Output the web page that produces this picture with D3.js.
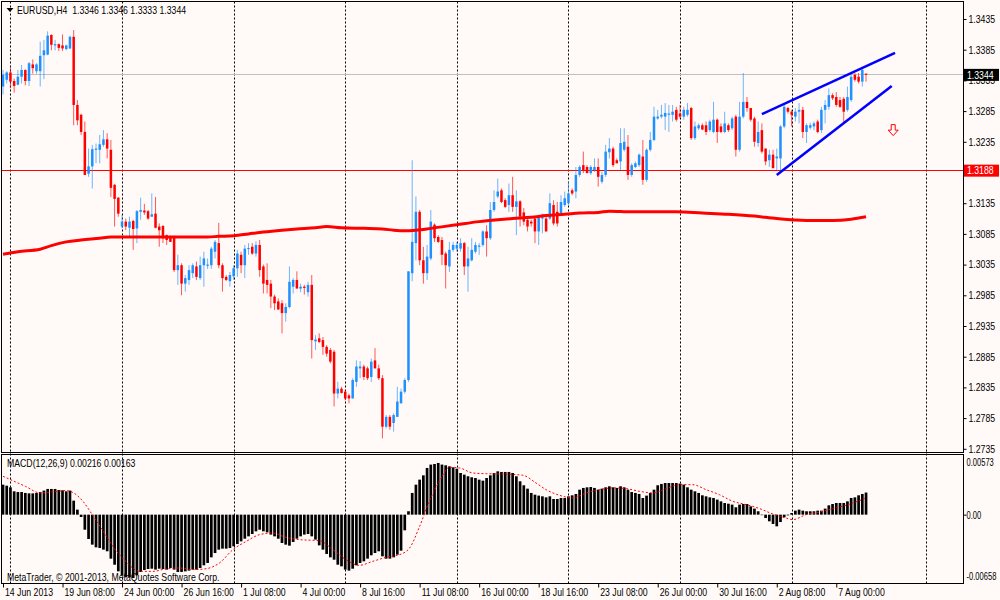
<!DOCTYPE html>
<html>
<head>
<meta charset="utf-8">
<script src="https://cdn.jsdelivr.net/npm/d3@7"></script>
<style>
  body { margin: 0; background: #fffaf7; }
  svg text { font-family: "Liberation Sans", Arial, sans-serif; font-size: 10.5px; fill: #000; white-space: pre; }
</style>
</head>
<body>
<svg id="chart" width="1000" height="600"></svg>
<script>
'use strict';

// H4 bars: [open, high, low, close]
const candles = [
  [1.3325,1.3352,1.3312,1.3344],[1.3336,1.3350,1.3330,1.3348],[1.3348,1.3356,1.3322,1.3333],[1.3334,1.3338,1.3315,1.3326],
  [1.3328,1.3352,1.3327,1.3341],[1.3341,1.3360,1.3330,1.3352],[1.3352,1.3353,1.3327,1.3334],[1.3334,1.3365,1.3326,1.3363],
  [1.3361,1.3369,1.3346,1.3355],[1.3350,1.3363,1.3346,1.3361],[1.3350,1.3398,1.3325,1.3375],[1.3376,1.3401,1.3337,1.3384],
  [1.3377,1.3415,1.3376,1.3408],[1.3409,1.3410,1.3384,1.3393],[1.3392,1.3401,1.3384,1.3394],[1.3394,1.3395,1.3383,1.3388],
  [1.3392,1.3410,1.3383,1.3387],[1.3386,1.3393,1.3384,1.3392],[1.3387,1.3408,1.3386,1.3406],[1.3406,1.3417,1.3262,1.3295],
  [1.3295,1.3303,1.3262,1.3270],[1.3279,1.3281,1.3246,1.3251],[1.3251,1.3268,1.3181,1.3181],[1.3183,1.3224,1.3178,1.3195],
  [1.3195,1.3230,1.3159,1.3223],[1.3222,1.3232,1.3200,1.3224],[1.3222,1.3246,1.3200,1.3231],[1.3230,1.3254,1.3227,1.3239],
  [1.3239,1.3249,1.3208,1.3224],[1.3222,1.3238,1.3145,1.3160],[1.3165,1.3166,1.3097,1.3142],[1.3144,1.3145,1.3113,1.3118],
  [1.3097,1.3116,1.3094,1.3105],[1.3105,1.3110,1.3091,1.3097],[1.3095,1.3113,1.3080,1.3105],[1.3106,1.3108,1.3059,1.3093],
  [1.3094,1.3124,1.3070,1.3122],[1.3121,1.3144,1.3108,1.3124],[1.3123,1.3134,1.3116,1.3120],[1.3122,1.3124,1.3108,1.3110],
  [1.3113,1.3151,1.3113,1.3117],[1.3118,1.3145,1.3094,1.3095],[1.3097,1.3102,1.3064,1.3091],[1.3098,1.3099,1.3070,1.3078],
  [1.3083,1.3084,1.3067,1.3075],[1.3079,1.3082,1.3072,1.3072],[1.3080,1.3082,1.3023,1.3026],[1.3026,1.3051,1.3002,1.3034],
  [1.3034,1.3037,1.2985,1.3004],[1.3004,1.3018,1.2991,1.3013],[1.3010,1.3034,1.3002,1.3026],[1.3021,1.3037,1.3013,1.3034],
  [1.3032,1.3040,1.3010,1.3015],[1.3013,1.3048,1.3010,1.3034],[1.3034,1.3056,1.2999,1.3045],[1.3033,1.3045,1.3028,1.3035],
  [1.3034,1.3064,1.3028,1.3061],[1.3056,1.3075,1.3045,1.3072],[1.3070,1.3103,1.3029,1.3034],[1.3034,1.3037,1.2991,1.3013],
  [1.3015,1.3018,1.3008,1.3010],[1.3008,1.3023,1.2999,1.3018],[1.3016,1.3034,1.3010,1.3029],[1.3029,1.3059,1.3015,1.3053],
  [1.3051,1.3056,1.3021,1.3034],[1.3034,1.3067,1.3013,1.3061],[1.3061,1.3070,1.3051,1.3062],[1.3064,1.3070,1.3051,1.3053],
  [1.3053,1.3073,1.3048,1.3067],[1.3067,1.3075,1.3015,1.3026],[1.3032,1.3035,1.2988,1.3004],[1.3010,1.3037,1.2988,1.3002],
  [1.3004,1.3010,1.2964,1.2983],[1.2983,1.2986,1.2961,1.2972],[1.2975,1.2980,1.2961,1.2962],[1.2972,1.2977,1.2923,1.2956],
  [1.2956,1.2972,1.2942,1.2966],[1.2966,1.3032,1.2964,1.3007],[1.2999,1.3013,1.2988,1.3010],[1.3010,1.3024,1.2996,1.2996],
  [1.2996,1.3004,1.2990,1.2999],[1.2999,1.3002,1.2986,1.2997],[1.2990,1.3007,1.2983,1.3002],[1.3002,1.3018,1.2882,1.2912],
  [1.2910,1.2920,1.2896,1.2913],[1.2915,1.2923,1.2907,1.2909],[1.2912,1.2917,1.2888,1.2901],[1.2901,1.2904,1.2885,1.2890],
  [1.2896,1.2899,1.2874,1.2877],[1.2893,1.2896,1.2804,1.2825],[1.2825,1.2844,1.2817,1.2833],[1.2833,1.2836,1.2825,1.2826],
  [1.2828,1.2831,1.2814,1.2817],[1.2822,1.2825,1.2809,1.2817],[1.2817,1.2850,1.2817,1.2847],[1.2844,1.2879,1.2836,1.2869],
  [1.2866,1.2878,1.2850,1.2869],[1.2869,1.2872,1.2847,1.2852],[1.2866,1.2869,1.2847,1.2850],[1.2852,1.2882,1.2844,1.2877],
  [1.2879,1.2899,1.2866,1.2866],[1.2866,1.2872,1.2847,1.2850],[1.2850,1.2855,1.2752,1.2771],[1.2771,1.2790,1.2768,1.2787],
  [1.2787,1.2790,1.2766,1.2771],[1.2777,1.2793,1.2763,1.2790],[1.2787,1.2836,1.2787,1.2812],[1.2809,1.2833,1.2809,1.2828],
  [1.2828,1.2850,1.2825,1.2847],[1.2847,1.3024,1.2844,1.3024],[1.3021,1.3205,1.3008,1.3072],[1.3070,1.3146,1.3042,1.3121],
  [1.3121,1.3124,1.3034,1.3042],[1.3042,1.3064,1.3004,1.3021],[1.3021,1.3067,1.3010,1.3048],[1.3045,1.3124,1.3042,1.3105],
  [1.3100,1.3102,1.3072,1.3078],[1.3080,1.3083,1.3070,1.3072],[1.3075,1.3080,1.3034,1.3051],[1.3053,1.3056,1.2996,1.3034],
  [1.3032,1.3072,1.3023,1.3059],[1.3059,1.3072,1.3056,1.3067],[1.3061,1.3072,1.3056,1.3067],[1.3061,1.3078,1.3056,1.3070],
  [1.3070,1.3072,1.3018,1.3032],[1.3032,1.3064,1.2991,1.3045],[1.3042,1.3078,1.3040,1.3059],[1.3056,1.3072,1.3053,1.3067],
  [1.3064,1.3070,1.3051,1.3066],[1.3067,1.3091,1.3064,1.3089],[1.3089,1.3099,1.3048,1.3078],[1.3078,1.3137,1.3075,1.3124],
  [1.3124,1.3156,1.3121,1.3137],[1.3146,1.3175,1.3143,1.3154],[1.3156,1.3159,1.3135,1.3137],[1.3140,1.3143,1.3127,1.3129],
  [1.3132,1.3167,1.3121,1.3148],[1.3148,1.3178,1.3121,1.3129],[1.3129,1.3156,1.3083,1.3138],[1.3138,1.3140,1.3097,1.3113],
  [1.3120,1.3127,1.3099,1.3105],[1.3108,1.3113,1.3089,1.3097],[1.3105,1.3108,1.3097,1.3102],[1.3110,1.3113,1.3070,1.3089],
  [1.3089,1.3116,1.3067,1.3113],[1.3110,1.3118,1.3086,1.3116],[1.3110,1.3113,1.3089,1.3089],[1.3110,1.3151,1.3108,1.3135],
  [1.3132,1.3140,1.3099,1.3102],[1.3121,1.3137,1.3097,1.3102],[1.3118,1.3148,1.3116,1.3137],[1.3132,1.3154,1.3129,1.3143],
  [1.3135,1.3170,1.3132,1.3151],[1.3156,1.3159,1.3148,1.3151],[1.3154,1.3194,1.3143,1.3181],[1.3181,1.3197,1.3178,1.3194],
  [1.3197,1.3219,1.3184,1.3189],[1.3194,1.3197,1.3184,1.3184],[1.3184,1.3197,1.3181,1.3194],[1.3189,1.3208,1.3186,1.3194],
  [1.3194,1.3208,1.3162,1.3178],[1.3170,1.3186,1.3167,1.3181],[1.3181,1.3230,1.3178,1.3219],[1.3218,1.3241,1.3208,1.3224],
  [1.3224,1.3227,1.3194,1.3197],[1.3205,1.3208,1.3200,1.3200],[1.3203,1.3257,1.3189,1.3233],[1.3222,1.3257,1.3219,1.3235],
  [1.3227,1.3246,1.3173,1.3181],[1.3181,1.3200,1.3178,1.3197],[1.3194,1.3203,1.3192,1.3200],[1.3197,1.3216,1.3194,1.3214],
  [1.3211,1.3238,1.3165,1.3173],[1.3173,1.3224,1.3170,1.3222],[1.3222,1.3251,1.3219,1.3238],[1.3238,1.3292,1.3236,1.3276],
  [1.3273,1.3287,1.3271,1.3276],[1.3276,1.3295,1.3273,1.3279],[1.3276,1.3298,1.3254,1.3282],[1.3279,1.3295,1.3251,1.3281],
  [1.3279,1.3295,1.3268,1.3284],[1.3287,1.3292,1.3268,1.3271],[1.3281,1.3295,1.3273,1.3276],[1.3276,1.3292,1.3271,1.3287],
  [1.3279,1.3298,1.3276,1.3287],[1.3290,1.3292,1.3238,1.3241],[1.3241,1.3268,1.3238,1.3260],[1.3257,1.3265,1.3254,1.3262],
  [1.3262,1.3265,1.3254,1.3255],[1.3262,1.3268,1.3246,1.3251],[1.3254,1.3271,1.3251,1.3268],[1.3251,1.3300,1.3249,1.3271],
  [1.3271,1.3273,1.3233,1.3251],[1.3260,1.3265,1.3249,1.3251],[1.3251,1.3284,1.3249,1.3265],[1.3262,1.3265,1.3251,1.3254],
  [1.3257,1.3276,1.3254,1.3273],[1.3276,1.3279,1.3211,1.3222],[1.3222,1.3300,1.3219,1.3276],[1.3276,1.3347,1.3273,1.3300],
  [1.3300,1.3308,1.3284,1.3290],[1.3290,1.3290,1.3268,1.3271],[1.3273,1.3276,1.3227,1.3235],[1.3233,1.3268,1.3227,1.3251],
  [1.3254,1.3265,1.3216,1.3219],[1.3224,1.3224,1.3197,1.3203],[1.3205,1.3222,1.3194,1.3214],[1.3214,1.3222,1.3192,1.3192],
  [1.3208,1.3224,1.3189,1.3211],[1.3208,1.3262,1.3189,1.3260],[1.3260,1.3295,1.3257,1.3292],[1.3290,1.3292,1.3281,1.3284],
  [1.3284,1.3287,1.3260,1.3279],[1.3276,1.3290,1.3268,1.3284],[1.3284,1.3298,1.3265,1.3287],[1.3287,1.3292,1.3241,1.3251],
  [1.3251,1.3265,1.3233,1.3262],[1.3258,1.3266,1.3255,1.3262],[1.3260,1.3268,1.3254,1.3265],[1.3268,1.3271,1.3249,1.3251],
  [1.3254,1.3292,1.3249,1.3287],[1.3287,1.3303,1.3265,1.3295],[1.3292,1.3322,1.3287,1.3311],[1.3311,1.3314,1.3303,1.3306],
  [1.3308,1.3316,1.3292,1.3295],[1.3303,1.3308,1.3290,1.3292],[1.3305,1.3308,1.3265,1.3284],[1.3287,1.3325,1.3284,1.3308],
  [1.3303,1.3344,1.3300,1.3341],[1.3344,1.3347,1.3333,1.3336],[1.3341,1.3347,1.3330,1.3333],[1.3333,1.3355,1.3325,1.3352],
  [1.3346,1.3346,1.3333,1.3344]
];

// MACD(12,26,9) main line, one value per bar (drawn as histogram)
const macdMain = [
  0.00293,0.00283,0.00267,0.00228,0.00221,0.00221,0.00212,0.00208,0.00208,0.00212,0.00221,0.00235,0.00251,0.00251,0.00251,0.00241,
  0.00238,0.00228,0.00235,0.00137,0.00049,-0.00023,-0.00147,-0.00238,-0.00293,-0.00319,-0.00326,-0.00342,-0.00358,-0.00430,-0.00489,-0.00554,
  -0.00593,-0.00612,-0.00612,-0.00619,-0.00593,-0.00560,-0.00541,-0.00531,-0.00528,-0.00537,-0.00528,-0.00531,-0.00537,-0.00521,-0.00537,-0.00560,
  -0.00560,-0.00554,-0.00547,-0.00537,-0.00537,-0.00521,-0.00495,-0.00472,-0.00417,-0.00375,-0.00342,-0.00332,-0.00332,-0.00326,-0.00309,-0.00287,
  -0.00261,-0.00235,-0.00212,-0.00189,-0.00163,-0.00147,-0.00163,-0.00173,-0.00195,-0.00212,-0.00235,-0.00277,-0.00293,-0.00303,-0.00267,-0.00235,
  -0.00212,-0.00195,-0.00189,-0.00212,-0.00244,-0.00300,-0.00342,-0.00384,-0.00417,-0.00440,-0.00489,-0.00505,-0.00537,-0.00547,-0.00528,-0.00495,
  -0.00472,-0.00456,-0.00430,-0.00397,-0.00375,-0.00358,-0.00407,-0.00430,-0.00430,-0.00417,-0.00391,-0.00352,-0.00153,0.00033,0.00212,0.00293,
  0.00342,0.00384,0.00456,0.00489,0.00495,0.00505,0.00489,0.00482,0.00472,0.00462,0.00449,0.00407,0.00391,0.00375,0.00365,0.00358,
  0.00342,0.00332,0.00358,0.00384,0.00407,0.00423,0.00417,0.00417,0.00417,0.00407,0.00375,0.00326,0.00287,0.00254,0.00212,0.00195,
  0.00186,0.00179,0.00169,0.00179,0.00153,0.00153,0.00163,0.00163,0.00179,0.00189,0.00202,0.00244,0.00261,0.00267,0.00270,0.00261,
  0.00244,0.00254,0.00267,0.00277,0.00267,0.00261,0.00277,0.00267,0.00244,0.00221,0.00212,0.00202,0.00163,0.00186,0.00212,0.00244,
  0.00287,0.00300,0.00309,0.00309,0.00309,0.00309,0.00303,0.00293,0.00267,0.00244,0.00228,0.00212,0.00189,0.00179,0.00169,0.00163,
  0.00147,0.00130,0.00114,0.00107,0.00098,0.00072,0.00098,0.00104,0.00104,0.00081,0.00059,0.00033,-0.00005,-0.00033,-0.00065,-0.00091,
  -0.00114,-0.00072,-0.00026,-0.00007,0.00016,0.00039,0.00049,0.00039,0.00033,0.00033,0.00033,0.00039,0.00039,0.00059,0.00091,0.00104,
  0.00114,0.00114,0.00114,0.00130,0.00163,0.00169,0.00189,0.00202,0.00216
];

// MACD signal line, read at these bars
const signalBars = [0,3,6,10,13,17,19,21.5,24,27,29.5,33,36.7,40.3,44,47.4,51,54.6,58.2,61.8,65.4,69,72.5,76,79.7,85,88.7,92.2,95.8,99.4,
  103,106.6,109.3,112,114.6,117.3,120,122.7,126.3,130,134,139.7,143.3,146,149.6,153.2,156.8,160.3,163.9,167.5,171.1,174.7,178.3,181.9,
  185.4,189,192.6,196.2,199.8,203.4,206.9,210.5,212.3,215.9,219.5,223,226.6,232];
const signalValues = [0.00375,0.00326,0.00277,0.00212,0.00221,0.00235,0.00212,0.00130,0,-0.00163,-0.00309,-0.00456,-0.00554,-0.00554,
  -0.00528,-0.00521,-0.00537,-0.00528,-0.00472,-0.00342,-0.00261,-0.00195,-0.00179,-0.00221,-0.00244,-0.00254,-0.00342,-0.00440,-0.00495,
  -0.00456,-0.00417,-0.00391,-0.00326,-0.00114,0.00130,0.00326,0.00462,0.00456,0.00407,0.00400,0.00398,0.00385,0.00309,0.00244,0.00189,
  0.00163,0.00212,0.00244,0.00261,0.00254,0.00228,0.00212,0.00254,0.00293,0.00293,0.00244,0.00195,0.00130,0.00098,0.00059,0.00007,
  -0.00033,-0.00049,0,0.00026,0.00059,0.00091,0.00163];

// thick red moving average, read at these bars
const maBars = [0,4,10,13,17,21,26,29,35,44,55,58,62,66,70,75,79,84,87,91,97,102,105,108,111,115,122,128,133,137,142,146,151,155,
  160,163,169,175,181,188,195,202,208,216,223,228,232];
const maValues = [1.3052,1.3056,1.3060,1.3066,1.3072,1.3075,1.3078,1.3080,1.3080,1.3080,1.3080,1.3081,1.3082,1.3085,1.3088,1.3091,
  1.3093,1.3095,1.3097,1.3095,1.3094,1.3093,1.3091,1.3090,1.3091,1.3094,1.3100,1.3105,1.3108,1.3110,1.3112,1.3115,1.3117,1.3119,
  1.3120,1.3122,1.3121,1.3121,1.3121,1.3119,1.3117,1.3114,1.3110,1.3107,1.3107,1.3109,1.3113];

// 1.3185 sits under the red level tag and is not drawn
const priceTicks = [1.3435,1.3385,1.3335,1.3285,1.3235,1.3135,1.3085,1.3035,1.2985,1.2935,1.2885,1.2835,1.2785,1.2735];
const macdTicks = [0.00573, 0, -0.00658];
const macdTickLabels = ['0.00573', '0.00', '-0.00658'];

const timeBars = [0,16,32,48,64,80,96,112,128,144,160,176,192,208,224];
const timeLabels = ['14 Jun 2013','19 Jun 08:00','24 Jun 00:00','26 Jun 16:00','1 Jul 08:00','4 Jul 00:00','8 Jul 16:00',
  '11 Jul 08:00','16 Jul 00:00','18 Jul 16:00','23 Jul 08:00','26 Jul 00:00','30 Jul 16:00','2 Aug 08:00','7 Aug 00:00'];
const weekBars = [2,32,62,92,122,152,182,212,248];

const quote = [1.3346, 1.3346, 1.3333, 1.3344];   // O H L C of the last bar
const bid = 1.3344;
const level = 1.3188;
const macdNow = [0.00216, 0.00163];
const upperChannel = [[204.0, 1.3280], [239.8, 1.3380]];
const lowerChannel = [[208.0, 1.3181], [238.9, 1.3326]];
const sellArrow = [239.3, 1.3254];

document.addEventListener('DOMContentLoaded', () => {

  const svg = d3.select('#chart');
  const left = 1.5, right = 963.5;
  const main = {top: 1.5, bottom: 452.5};
  const sub = {top: 454.5, bottom: 583.5};
  const bull = '#1e90ff', bear = '#ff0000';

  svg.append('rect').attr('width', 1000).attr('height', 600).attr('fill', '#fffaf7');

  // scales
  const x = d3.scaleLinear().domain([0, 232]).range([3, 866.04]);
  const y = d3.scaleLinear().domain([1.2735, 1.3435]).range([448.8, 19]);
  const yM = d3.scaleLinear().domain([-0.00658, 0.00573]).range([582, 456]);

  const defs = svg.append('defs');
  defs.append('clipPath').attr('id', 'clip-main').append('rect')
    .attr('x', left).attr('y', main.top).attr('width', right - left).attr('height', main.bottom - main.top);
  defs.append('clipPath').attr('id', 'clip-sub').append('rect')
    .attr('x', left).attr('y', sub.top).attr('width', right - left).attr('height', sub.bottom - sub.top);

  // weekly dashed grid through both windows
  svg.append('g').selectAll('line')
    .data(weekBars)
    .enter()
    .append('line')
    .attr('x1', d => Math.round(x(d)) + 0.5)
    .attr('x2', d => Math.round(x(d)) + 0.5)
    .attr('y1', main.top)
    .attr('y2', sub.bottom)
    .attr('stroke', '#000')
    .attr('stroke-dasharray', '2,2');

  // ---- price window
  const pw = svg.append('g').attr('clip-path', 'url(#clip-main)');

  pw.append('line')
    .attr('x1', left).attr('x2', right)
    .attr('y1', Math.floor(y(bid)) + 0.5).attr('y2', Math.floor(y(bid)) + 0.5)
    .attr('stroke', '#c0c0c0')
    .attr('shape-rendering', 'crispEdges');
  pw.append('line')
    .attr('x1', left).attr('x2', right)
    .attr('y1', Math.floor(y(level)) + 0.5).attr('y2', Math.floor(y(level)) + 0.5)
    .style('stroke', '#ff0000')
    .attr('shape-rendering', 'crispEdges');

  const bars = pw.append('g').selectAll('g')
    .data(candles)
    .enter()
    .append('g');
  bars.append('line')
    .attr('x1', (d, i) => x(i)).attr('x2', (d, i) => x(i))
    .attr('y1', d => y(d[1])).attr('y2', d => y(d[2]))
    .attr('stroke', d => d[3] >= d[0] ? bull : bear)
    .attr('stroke-opacity', 0.65)
    .attr('stroke-width', 1);
  bars.append('rect')
    .attr('x', (d, i) => x(i) - 1.25)
    .attr('width', 2.5)
    .attr('y', d => y(Math.max(d[0], d[3])))
    .attr('height', d => Math.max(1, Math.abs(y(d[0]) - y(d[3]))))
    .attr('fill', d => d[3] >= d[0] ? bull : bear);

  // moving average
  const maLine = d3.line().x(d => x(d[0])).y(d => y(d[1])).curve(d3.curveMonotoneX);
  pw.append('path')
    .attr('d', maLine(d3.zip(maBars, maValues)))
    .attr('fill', 'none')
    .attr('stroke', '#ff0000')
    .attr('stroke-width', 3);

  // rising channel
  const seg = d3.line().x(d => x(d[0])).y(d => y(d[1]));
  [upperChannel, lowerChannel].forEach(c => {
    pw.append('path')
      .attr('d', seg(c))
      .attr('fill', 'none')
      .attr('stroke', '#0000ff')
      .attr('stroke-width', 2.5);
  });

  // sell arrow
  pw.append('path')
    .attr('transform', `translate(${x(sellArrow[0])},${y(sellArrow[1])})`)
    .attr('d', 'M-2,-5.5 L2,-5.5 L2,0 L5,0 L0,5.5 L-5,0 L-2,0 Z')
    .attr('fill', '#fffaf7')
    .attr('stroke', '#ff0000');

  // ---- MACD window
  const mw = svg.append('g').attr('clip-path', 'url(#clip-sub)');
  mw.selectAll('rect')
    .data(macdMain)
    .enter()
    .append('rect')
    .attr('x', (d, i) => x(i) - 1.35)
    .attr('width', 2.7)
    .attr('y', d => Math.min(yM(d), yM(0)))
    .attr('height', d => Math.max(0.5, Math.abs(yM(d) - yM(0))))
    .attr('fill', '#000');

  const sigLine = d3.line().x(d => x(d[0])).y(d => yM(d[1])).curve(d3.curveMonotoneX);
  mw.append('path')
    .attr('d', sigLine(d3.zip(signalBars, signalValues)))
    .attr('fill', 'none')
    .attr('stroke', '#ff0000')
    .attr('stroke-dasharray', '2,2');

  // window frames
  svg.append('rect')
    .attr('x', left).attr('y', main.top).attr('width', right - left).attr('height', main.bottom - main.top)
    .attr('fill', 'none').attr('stroke', '#000');
  svg.append('rect')
    .attr('x', left).attr('y', sub.top).attr('width', right - left).attr('height', sub.bottom - sub.top)
    .attr('fill', 'none').attr('stroke', '#000');

  // price axis
  const yAxis = d3.axisRight(y).tickValues(priceTicks).tickFormat(d3.format('.4f')).tickSize(3).tickPadding(2);
  svg.append('g')
    .attr('transform', `translate(${right},0)`)
    .call(yAxis)
    .call(g => g.select('.domain').remove());

  // bid and level tags on the axis
  [[bid, '#000'], [level, '#ff0000']].forEach(([p, col]) => {
    svg.append('rect')
      .attr('x', 964).attr('y', y(p) - 6)
      .attr('width', 35).attr('height', 12)
      .attr('fill', col);
    svg.append('text')
      .attr('x', 967).attr('y', y(p))
      .attr('dy', '0.35em')
      .style('fill', '#fff')
      .text(d3.format('.4f')(p));
  });

  // captions
  svg.append('path')
    .attr('d', 'M6.5,8 L13.5,8 L10,12 Z')
    .attr('fill', '#000');
  svg.append('text')
    .attr('x', 17).attr('y', 13.5)
    .text('EURUSD,H4  ' + quote.map(d3.format('.4f')).join(' '));
  svg.append('text')
    .attr('x', 7).attr('y', 466.5)
    .text(`MACD(12,26,9) ${d3.format('.5f')(macdNow[0])} ${d3.format('.5f')(macdNow[1])}`);
  svg.append('text')
    .attr('x', 7).attr('y', 580.5)
    .text('MetaTrader, © 2001-2013, MetaQuotes Software Corp.');

  // time axis
  const xAxis = d3.axisBottom(x).tickValues(timeBars).tickFormat((d, i) => timeLabels[i]).tickSize(4).tickPadding(1);
  svg.append('g')
    .attr('transform', `translate(0,${sub.bottom})`)
    .call(xAxis)
    .call(g => g.select('.domain').remove())
    .call(g => g.selectAll('.tick text').attr('text-anchor', 'start').attr('x', 1.5));

  // the terminal font is narrow: squeeze every label horizontally
  svg.selectAll('text').each(function() {
    const w = this.getComputedTextLength();
    d3.select(this).attr('textLength', w * 0.83).attr('lengthAdjust', 'spacingAndGlyphs');
  });

  // MACD axis, squeezed a little more so the long labels stay inside the window
  const mAxis = d3.axisRight(yM).tickValues(macdTicks).tickFormat((d, i) => macdTickLabels[i]).tickSize(3).tickPadding(0);
  const mg = svg.append('g')
    .attr('transform', `translate(${right},0)`)
    .call(mAxis)
    .call(g => g.select('.domain').remove())
    .call(g => g.selectAll('.tick').filter(d => d !== 0).select('line').remove())
    .call(g => g.selectAll('.tick text').attr('dy', d => d > 0 ? '0.9em' : (d < 0 ? '-0.2em' : '0.32em')));
  mg.selectAll('text').each(function() {
    const w = this.getComputedTextLength();
    d3.select(this).attr('textLength', w * 0.72).attr('lengthAdjust', 'spacingAndGlyphs');
  });
});
</script>
</body>
</html>
